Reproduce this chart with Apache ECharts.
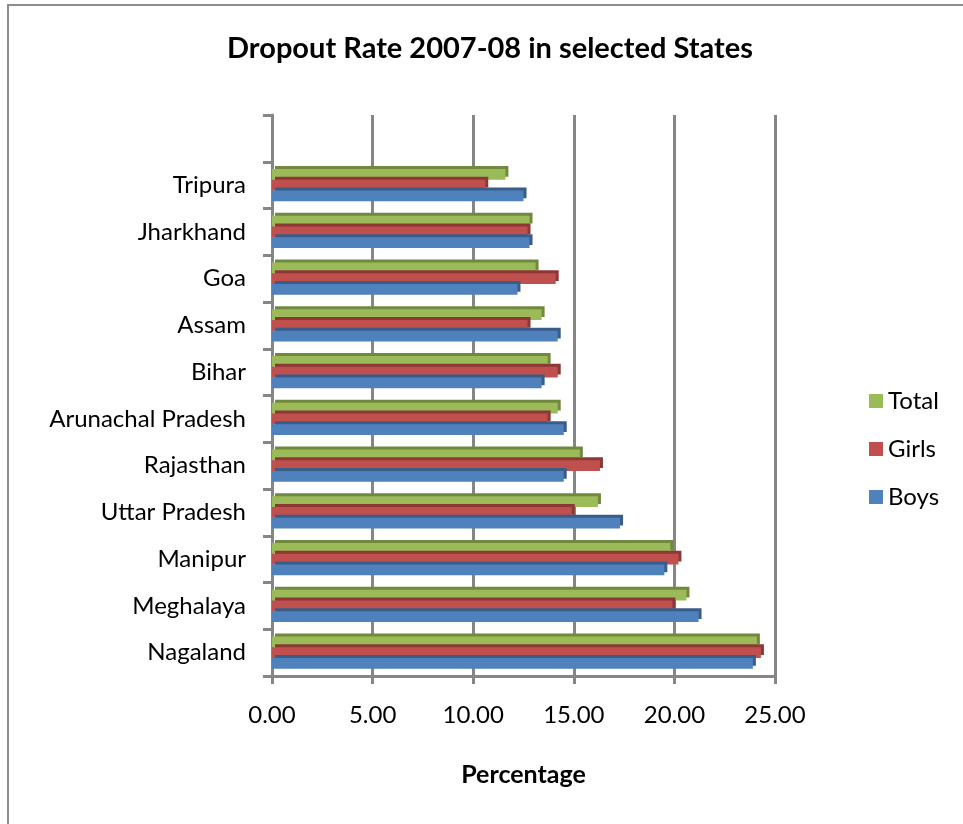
<!DOCTYPE html>
<html>
<head>
<meta charset="utf-8">
<script src="https://cdn.jsdelivr.net/npm/echarts@6/dist/echarts.min.js"></script>
<style>
  html, body { margin: 0; padding: 0; background: #fff; }
  #chart { width: 963px; height: 824px; }
</style>
</head>
<body>
<div id="chart"></div>
<script>
// states from bottom to top, the last empty slot is the blank band at the top
var states = ['Nagaland', 'Meghalaya', 'Manipur', 'Uttar Pradesh', 'Rajasthan',
  'Arunachal Pradesh', 'Bihar', 'Assam', 'Goa', 'Jharkhand', 'Tripura', '']
var boys = [23.9, 21.2, 19.5, 17.3, 14.5, 14.5, 13.4, 14.2, 12.2, 12.8, 12.5, null]
var girls = [24.3, 19.9, 20.2, 14.9, 16.3, 13.7, 14.2, 12.7, 14.1, 12.7, 10.6, null]
var total = [24.1, 20.6, 19.8, 16.2, 15.3, 14.2, 13.7, 13.4, 13.1, 12.8, 11.6, null]
var xTicks = [0, 5, 10, 15, 20, 25]

var fontName = 'Lato'

function barSeries(name, data, color, edge) {
  return {
    name: name,
    type: 'bar',
    data: data,
    barCategoryGap: '31%',
    barGap: '0%',
    itemStyle: {
      color: color,
      shadowColor: edge,
      shadowBlur: 0,
      shadowOffsetX: 3,
      shadowOffsetY: -3
    },
    emphasis: { disabled: true }
  }
}

var chart = echarts.init(document.getElementById('chart'))
chart.setOption({
  animation: false,
  textStyle: { fontFamily: fontName },
  title: {
    text: 'Dropout Rate 2007-08 in selected States',
    left: 485,
    textAlign: 'center',
    top: 29,
    textStyle: { fontFamily: fontName, fontSize: 29, fontWeight: 'bold', color: '#000' }
  },
  legend: {
    orient: 'vertical',
    left: 864,
    top: 384,
    itemWidth: 14,
    itemHeight: 14,
    itemGap: 24,
    icon: 'rect',
    data: ['Total', 'Girls', 'Boys'],
    textStyle: { fontFamily: fontName, fontSize: 24, color: '#000' }
  },
  graphic: [{
    type: 'rect',
    shape: { x: 8, y: 5, width: 1000, height: 900 },
    style: { fill: 'none', stroke: '#8c8c8c', lineWidth: 2 },
    silent: true
  }],
  grid: { left: 272, right: 188, top: 115, bottom: 148 },
  xAxis: {
    type: 'value',
    min: xTicks[0],
    max: xTicks[xTicks.length - 1],
    interval: 5,
    name: 'Percentage',
    nameLocation: 'middle',
    nameGap: 86,
    nameTextStyle: { fontFamily: fontName, fontSize: 25, fontWeight: 'bold', color: '#000' },
    axisLine: { show: true, lineStyle: { color: '#868686', width: 3 } },
    axisTick: { show: true, length: 8, lineStyle: { color: '#868686', width: 3 } },
    axisLabel: {
      margin: 27,
      fontSize: 24,
      color: '#000',
      formatter: function(v) { return v.toFixed(2) }
    },
    splitLine: { show: true, lineStyle: { color: '#868686', width: 3 } }
  },
  yAxis: {
    type: 'category',
    data: states,
    axisLine: { show: true, lineStyle: { color: '#868686', width: 3 } },
    axisTick: { show: true, length: 9, lineStyle: { color: '#868686', width: 3 } },
    axisLabel: { margin: 26, fontSize: 24, color: '#000', padding: [8, 0, 0, 0] }
  },
  // first series is drawn at the top of each band
  series: [
    barSeries('Total', total, '#9BBB59', '#71893F'),
    barSeries('Girls', girls, '#C0504D', '#8C3836'),
    barSeries('Boys', boys, '#4F81BD', '#385D8A')
  ]
})
</script>
</body>
</html>
